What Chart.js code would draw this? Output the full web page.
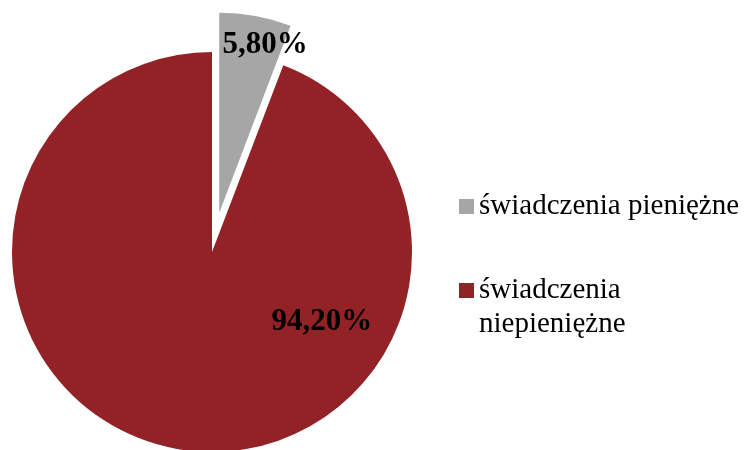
<!DOCTYPE html>
<html>
<head>
<meta charset="utf-8">
<script src="https://cdn.jsdelivr.net/npm/chart.js@4"></script>
<style>
  body { margin: 0; background: #fff; }
  #wrap { position: relative; width: 745px; height: 450px; overflow: hidden; }
  #legend { position: absolute; left: 0; top: 0; font-family: 'Liberation Serif', 'Times New Roman', serif; font-size: 29px; line-height: 34px; color: #000; }
  .item { position: absolute; left: 479px; width: 264px; }
  .box { position: absolute; left: 459px; width: 15px; height: 15px; }
</style>
</head>
<body>
<div id="wrap">
  <canvas id="pie" width="745" height="450"></canvas>
  <div id="legend"></div>
</div>
<script>
const labels = ['świadczenia pieniężne', 'świadczenia niepieniężne'];
const values = [5.8, 94.2];
const colors = ['#A6A6A6', '#922226'];

// explode distance per slice (px) and label placement relative to slice center
const explode = [40, 0];
const labelAngle = [16, 125.4];   // degrees clockwise from top
const labelDist = [0.83, 0.674];  // fraction of radius

function fmt(v) {
    return v.toFixed(2).replace('.', ',') + '%';
}

const explodePlugin = {
    id: 'explode',
    afterDatasetsUpdate(chart) {
        const arcs = chart.getDatasetMeta(0).data;
        arcs.forEach((arc, i) => {
            if (!explode[i]) return;
            const mid = (arc.startAngle + arc.endAngle) / 2;
            arc.x += Math.cos(mid) * explode[i];
            arc.y += Math.sin(mid) * explode[i];
        });
    }
};

const labelPlugin = {
    id: 'sliceLabels',
    afterDatasetsDraw(chart) {
        const ctx = chart.ctx;
        const arcs = chart.getDatasetMeta(0).data;
        ctx.save();
        ctx.font = 'bold 31px "Liberation Serif", "Times New Roman", serif';
        ctx.fillStyle = '#000';
        ctx.textAlign = 'center';
        ctx.textBaseline = 'alphabetic';
        arcs.forEach((arc, i) => {
            const a = labelAngle[i] * Math.PI / 180;
            const d = arc.outerRadius * labelDist[i];
            ctx.fillText(fmt(values[i]), arc.x + Math.sin(a) * d, arc.y - Math.cos(a) * d);
        });
        ctx.restore();
    }
};

new Chart(document.getElementById('pie'), {
    type: 'pie',
    data: {
        labels: labels,
        datasets: [{
            data: values,
            backgroundColor: colors,
            borderWidth: 0,
            clip: false
        }]
    },
    options: {
        responsive: false,
        devicePixelRatio: 1,
        animation: false,
        radius: 200,
        layout: { padding: { left: 0, right: 321, top: 54, bottom: 0 } },
        plugins: {
            legend: { display: false },
            tooltip: { enabled: false }
        }
    },
    plugins: [explodePlugin, labelPlugin]
});

// legend built from the same arrays
const legendTops = [187, 271];
const legend = document.getElementById('legend');
legend.innerHTML = labels.map((l, i) => `
    <div class="box" style="background:${colors[i]};top:${legendTops[i] + 12}px"></div>
    <div class="item" style="top:${legendTops[i]}px">${l}</div>`).join('');
</script>
</body>
</html>
